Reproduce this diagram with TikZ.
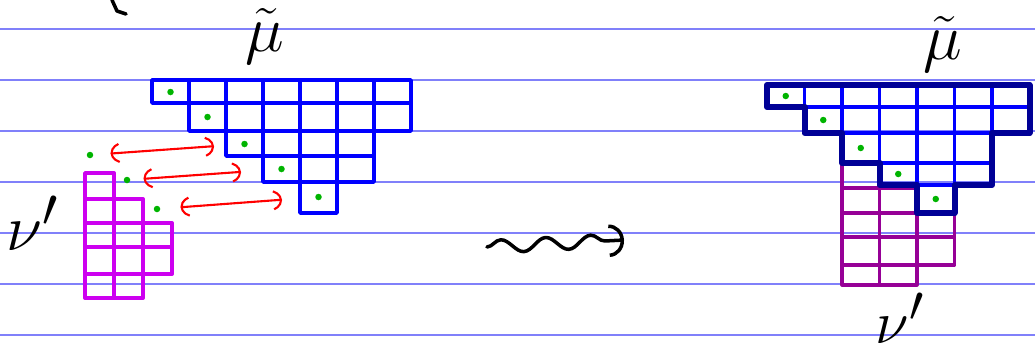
\documentclass[tikz,border=0pt]{standalone}
\usetikzlibrary{arrows.meta,decorations.pathmorphing}
\definecolor{ruleblue}{RGB}{128,128,250}
\definecolor{nuleft}{RGB}{205,0,240}
\definecolor{nuright}{RGB}{150,0,150}
\definecolor{muedge}{RGB}{0,0,150}
\definecolor{dotgreen}{RGB}{0,180,0}
\begin{document}
\begin{tikzpicture}[x=0.2mm,y=-0.2mm,line cap=round,line join=round,
  rule/.style={ruleblue,line width=1pt},
  mu/.style={blue,line width=2pt},
  muline/.style={muedge,line width=3.4pt},
  nl/.style={nuleft,line width=2.2pt},
  nr/.style={nuright,line width=1.8pt},
  dot/.style={circle,fill=dotgreen,inner sep=0pt,minimum size=1.3mm},
  pair/.style={red,line width=1.2pt,{Arc Barb[arc=130,length=2.8mm,width=4.4mm]}-{Arc Barb[arc=130,length=2.8mm,width=4.4mm]}},
  wave/.style={line width=2pt,decorate,decoration={snake,segment length=9mm,amplitude=1.3mm,post length=3mm},-{Arc Barb[length=3mm,width=6.5mm]}},
  lab/.style={font=\Huge,inner sep=1pt}]
\useasboundingbox (0,0) rectangle (1035,351);
% ruled paper
\foreach \y in {29,80,...,335} \draw[rule] (0,\y) -- (1035,\y);
\draw[line width=2pt] (112,0) -- (117,11) -- (126,14);
% left: mu tilde, shifted
\foreach \t/\b/\s/\e in {80/103/1/7,103/131/2/7,131/156/3/6,156/182/4/6,182/213/5/5}
  \foreach \c in {\s,...,\e}
    \draw[mu] ({115+37*\c},\t) rectangle ({152+37*\c},\b);
\foreach \i/\y in {1/92,2/117,3/144,4/169,5/197}
  \node[dot] (ld\i) at ({133.5+37*\i},\y) {};
\node[lab] (mul) at (265,36) {\scalebox{1.5}{$\tilde{\mu}$}};
% left: nu'
\foreach \t/\b/\n in {173/199/1,199/223/2,223/247/3,247/274/3,274/298/2}
  \foreach \c in {1,...,\n}
    \draw[nl] ({56+29*\c},\t) rectangle ({85+29*\c},\b);
\node[dot] (n1) at (90,155) {};
\node[dot] (n2) at (127,180) {};
\node[dot] (n3) at (157,209) {};
\node[lab] (nul) at (33,223) {\scalebox{1.5}{$\nu'$}};
\draw[pair,shorten <=3.4mm,shorten >=5.4mm] (n1) -- (ld3);
\draw[pair,shorten <=2.6mm,shorten >=7.4mm] (n2) -- (ld4);
\draw[pair,shorten <=4mm,shorten >=6.6mm] (n3) -- (ld5);
% squiggle
\coordinate (w0) at (487,247);
\coordinate (w1) at (624,240);
\draw[wave] (w0) -- (w1);
% right: nu' under mu tilde
\foreach \t/\b/\n in {163/188/1,188/213/2,213/237/3,237/265/3,265/285/2}
  \foreach \c in {1,...,\n}
    \draw[nr] ({804.5+37.5*\c},\t) rectangle ({842+37.5*\c},\b);
% right: mu tilde
\foreach \t/\b/\s/\e in {85/107/1/7,107/133/2/7,133/163/3/6,163/185/4/6,185/213/5/5}
  \foreach \c in {\s,...,\e}
    \draw[mu] ({729.5+37.5*\c},\t) rectangle ({767+37.5*\c},\b);
\draw[muline] (767,85) -- (1029.5,85) -- (1029.5,133) -- (992,133) -- (992,185)
  -- (954.5,185) -- (954.5,213) -- (917,213) -- (917,185) -- (879.5,185)
  -- (879.5,163) -- (842,163) -- (842,133) -- (804.5,133) -- (804.5,107)
  -- (767,107) -- cycle;
\foreach \i/\y in {1/96,2/120,3/148,4/174,5/199}
  \node[dot] (rd\i) at ({748.25+37.5*\i},\y) {};
\node[lab] (mur) at (943,44) {\scalebox{1.5}{$\tilde{\mu}$}};
\node[lab] (nur) at (900,318) {\scalebox{1.4}{$\nu'$}};
\end{tikzpicture}
\end{document}
